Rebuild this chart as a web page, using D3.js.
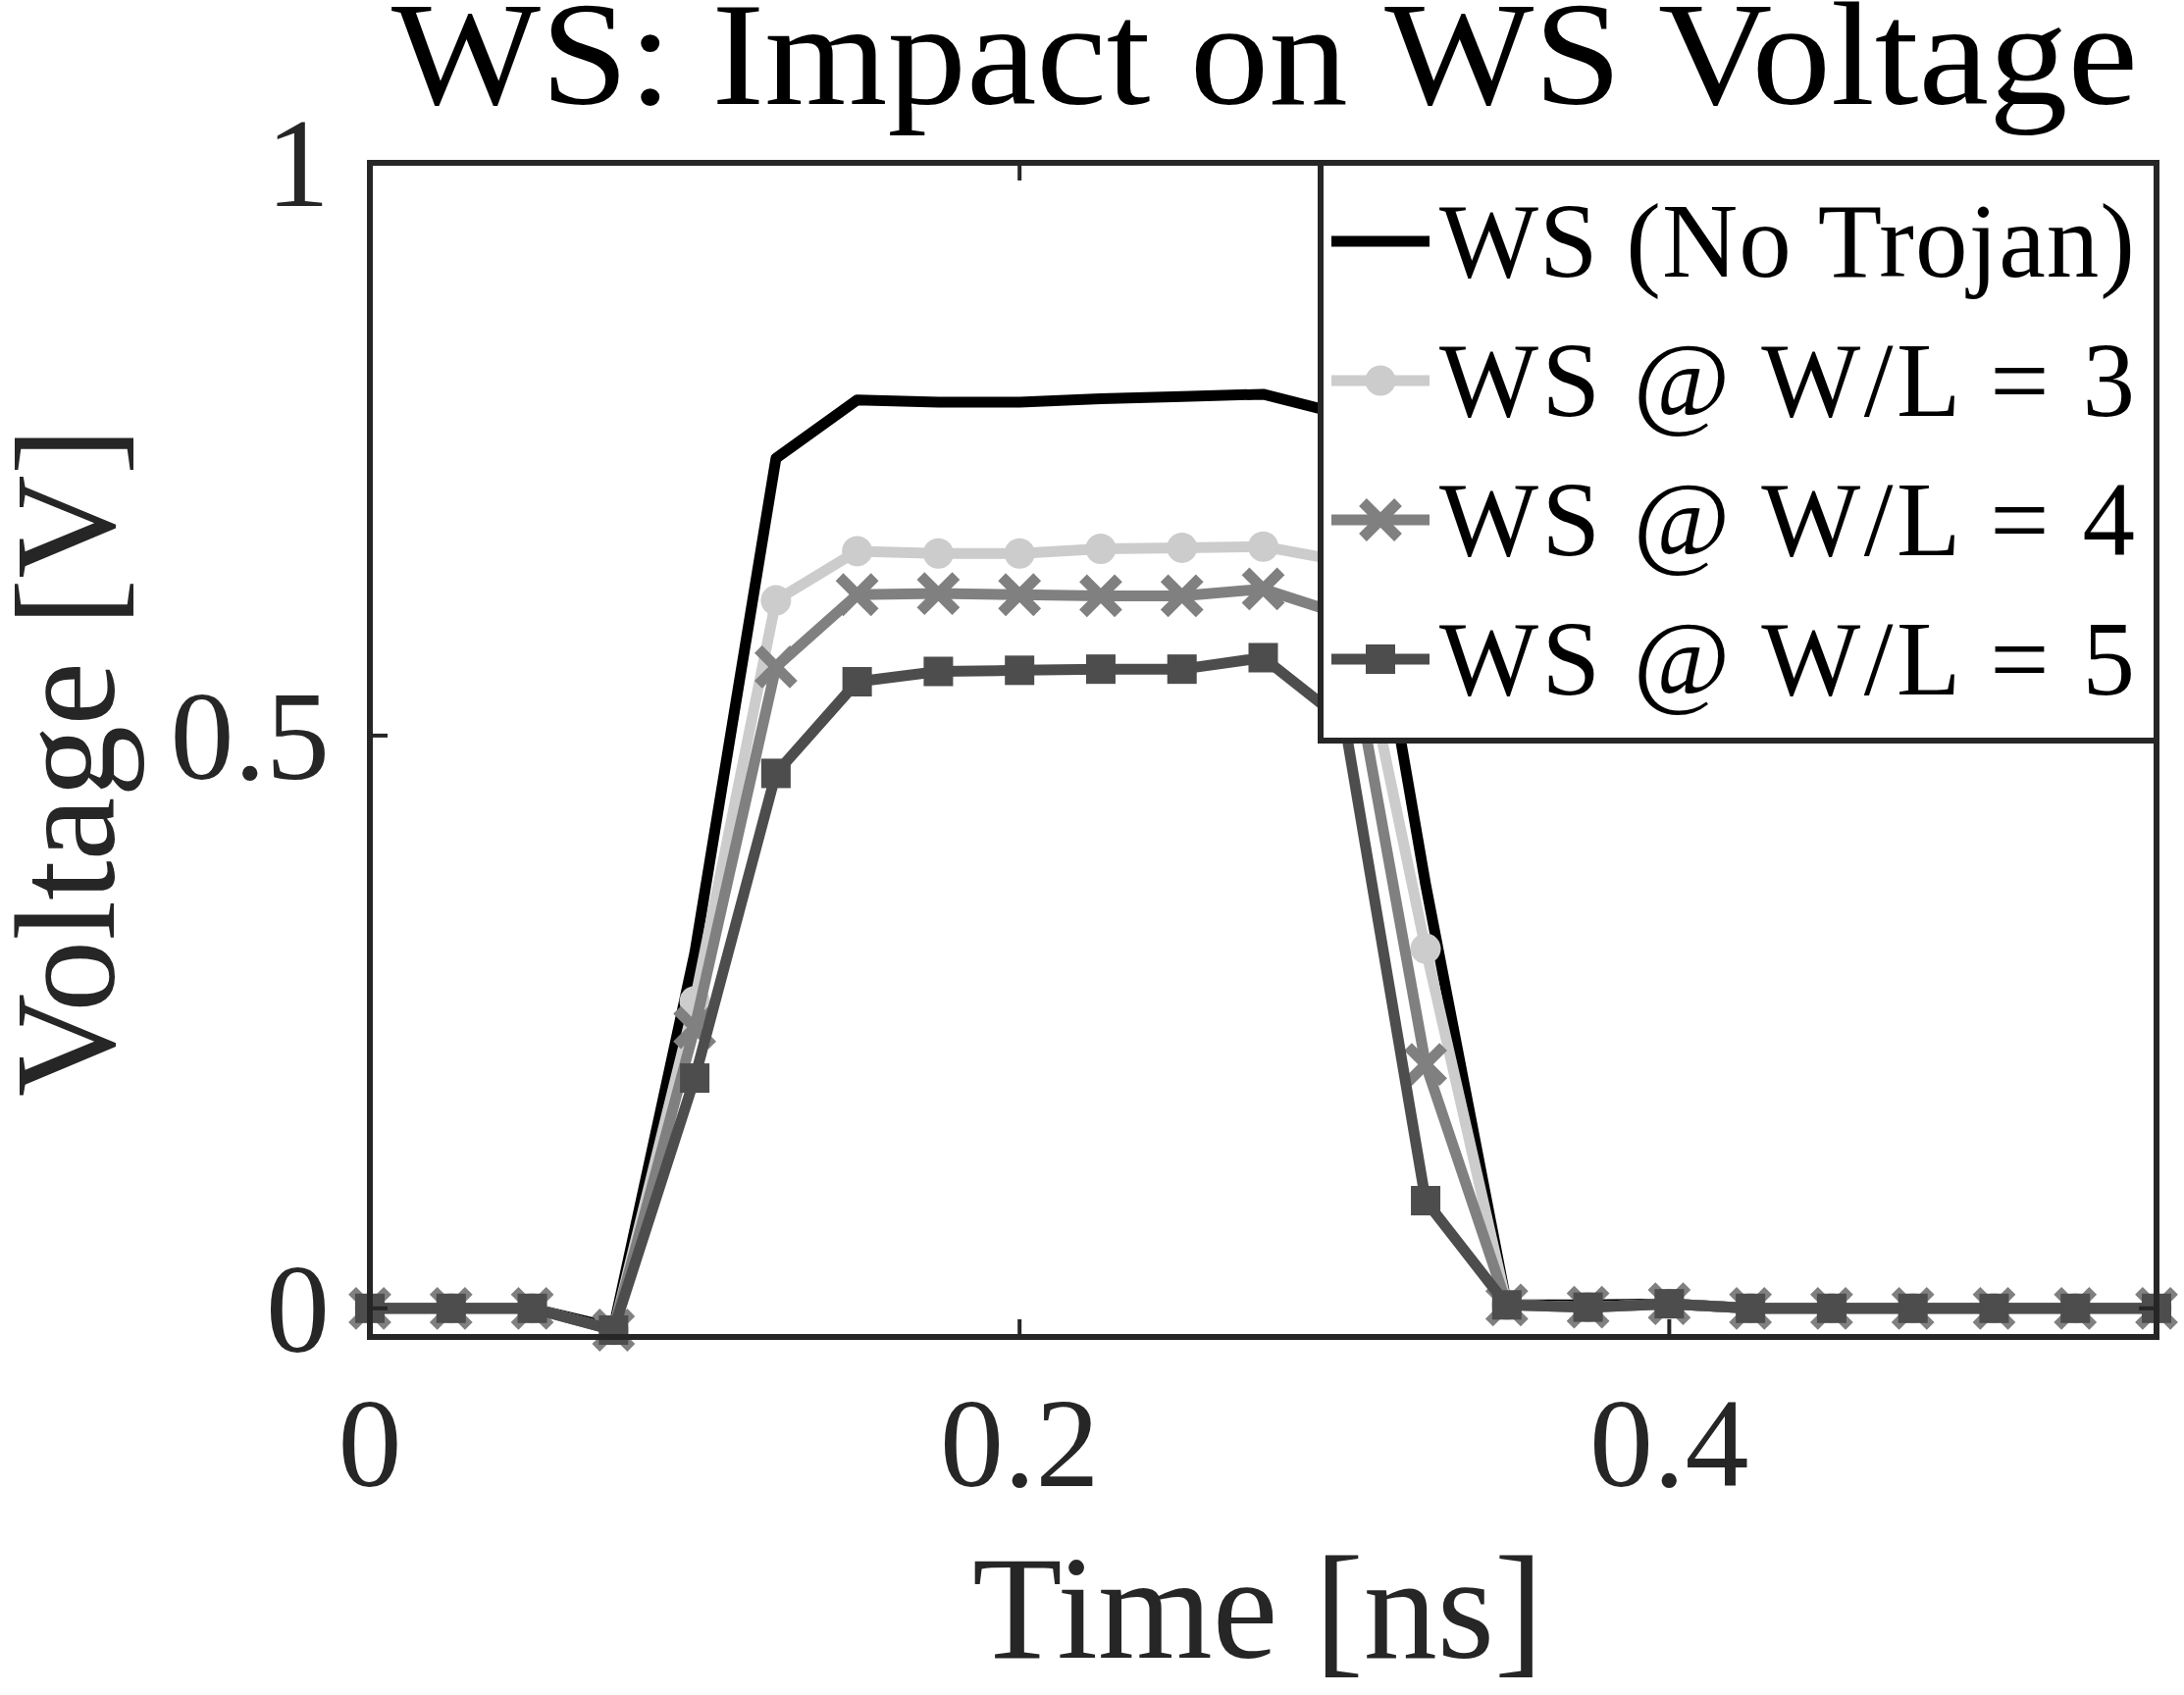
<!DOCTYPE html>
<meta charset="utf-8">
<head>
  <script src="https://d3js.org/d3.v7.min.js"></script>
  <style>
    html, body {
      margin: 0;
      padding: 0;
      background: white;
    }
    text {
      font-family: 'Liberation Serif', 'Times New Roman', serif;
    }
  </style>
</head>
<body>
<div id="my_dataviz"></div>

<script>

// time samples [ns]
var times = [0, 0.025, 0.05, 0.075, 0.1, 0.125, 0.15, 0.175, 0.2, 0.225, 0.25, 0.275,
             0.3, 0.325, 0.35, 0.375, 0.4, 0.425, 0.45, 0.475, 0.5, 0.525, 0.55];

// voltages [V]
var wsNoTrojan = [0, 0, 0, -0.017, 0.31, 0.742, 0.793, 0.791, 0.791, 0.794, 0.796, 0.798,
                  0.78, 0.37, 0.003, 0.003, 0.004, 0, 0, 0, 0, 0, 0];
var wsWL3 = [0, 0, 0, -0.019, 0.268, 0.618, 0.661, 0.659, 0.659, 0.663, 0.664, 0.665,
             0.652, 0.314, 0.003, 0.001, 0.004, 0, 0, 0, 0, 0, 0];
var wsWL4 = [0, 0, 0, -0.019, 0.245, 0.56, 0.623, 0.624, 0.623, 0.622, 0.622, 0.628,
             0.605, 0.213, 0.003, 0.001, 0.004, 0, 0, 0, 0, 0, 0];
var wsWL5 = [0, 0, 0, -0.019, 0.201, 0.467, 0.547, 0.556, 0.557, 0.558, 0.558, 0.568,
             0.512, 0.094, 0.003, 0.001, 0.004, 0, 0, 0, 0, 0, 0];

var seriesNames = ["WS (No Trojan)", "WS @ W/L = 3", "WS @ W/L = 4", "WS @ W/L = 5"];
var xTicks = [0, 0.2, 0.4];
var yTicks = [0, 0.5, 1];

var W = 2226, H = 1728;
var axisColor = "#262626";

var series = [
  {name: seriesNames[0], values: wsNoTrojan, color: "#000000", marker: "none"},
  {name: seriesNames[1], values: wsWL3, color: "#cccccc", marker: "circle"},
  {name: seriesNames[2], values: wsWL4, color: "#808080", marker: "x"},
  {name: seriesNames[3], values: wsWL5, color: "#4d4d4d", marker: "square"}
];

var svg = d3.select("#my_dataviz")
  .append("svg")
    .attr("width", W)
    .attr("height", H)
    .style("display", "block");

svg.append("rect").attr("width", W).attr("height", H).attr("fill", "white");

var x = d3.scaleLinear().domain([0, 0.55]).range([377, 2198]);
var y = d3.scaleLinear().domain([-0.025, 1]).range([1363, 166]);

// lines
var line = d3.line()
  .x(function(d, i) { return x(times[i]); })
  .y(function(d) { return y(d); });

var lineWidth = 11;

function drawMarker(g, type, cx, cy, color) {
  if (type == "circle") {
    g.append("circle").attr("cx", cx).attr("cy", cy).attr("r", 15.5).attr("fill", color);
  } else if (type == "square") {
    g.append("rect").attr("x", cx - 15).attr("y", cy - 15)
      .attr("width", 30).attr("height", 30).attr("fill", color);
  } else if (type == "x") {
    var s = 18;
    g.append("path")
      .attr("d", "M" + (cx - s) + "," + (cy - s) + "L" + (cx + s) + "," + (cy + s) +
                 "M" + (cx - s) + "," + (cy + s) + "L" + (cx + s) + "," + (cy - s))
      .attr("stroke", color)
      .attr("stroke-width", 11)
      .attr("fill", "none");
  }
}

series.forEach(function(s) {
  var g = svg.append("g");
  g.append("path")
    .datum(s.values)
    .attr("d", line)
    .attr("fill", "none")
    .attr("stroke", s.color)
    .attr("stroke-width", lineWidth)
    .attr("stroke-linejoin", "round");
  if (s.marker != "none") {
    s.values.forEach(function(v, i) {
      drawMarker(g, s.marker, x(times[i]), y(v), s.color);
    });
  }
});

// axes box
var x0 = x.range()[0], x1 = x.range()[1], y0 = y.range()[0], y1 = y.range()[1];
svg.append("rect")
  .attr("x", x0).attr("y", y1)
  .attr("width", x1 - x0).attr("height", y0 - y1)
  .attr("fill", "none")
  .attr("stroke", axisColor)
  .attr("stroke-width", 6);

var tickLen = 18;
xTicks.forEach(function(t) {
  svg.append("line").attr("x1", x(t)).attr("x2", x(t)).attr("y1", y0).attr("y2", y0 - tickLen)
    .attr("stroke", axisColor).attr("stroke-width", 4);
  svg.append("line").attr("x1", x(t)).attr("x2", x(t)).attr("y1", y1).attr("y2", y1 + tickLen)
    .attr("stroke", axisColor).attr("stroke-width", 4);
  svg.append("text")
    .attr("x", x(t)).attr("y", 1515)
    .attr("text-anchor", "middle")
    .attr("font-size", 130)
    .attr("fill", axisColor)
    .text(d3.format("")(t));
});

yTicks.forEach(function(t) {
  svg.append("line").attr("x1", x0).attr("x2", x0 + tickLen).attr("y1", y(t)).attr("y2", y(t))
    .attr("stroke", axisColor).attr("stroke-width", 4);
  svg.append("line").attr("x1", x1).attr("x2", x1 - tickLen).attr("y1", y(t)).attr("y2", y(t))
    .attr("stroke", axisColor).attr("stroke-width", 4);
  svg.append("text")
    .attr("x", 336).attr("y", y(t) + 44)
    .attr("text-anchor", "end")
    .attr("font-size", 130)
    .attr("fill", axisColor)
    .text(d3.format("")(t));
});

// title and labels
svg.append("text")
  .attr("x", 1289).attr("y", 106)
  .attr("text-anchor", "middle")
  .attr("font-size", 150)
  .attr("textLength", 1780)
  .attr("lengthAdjust", "spacingAndGlyphs")
  .attr("fill", "#000")
  .text("WS: Impact on WS Voltage");

svg.append("text")
  .attr("x", 1282).attr("y", 1690)
  .attr("text-anchor", "middle")
  .attr("font-size", 150)
  .attr("fill", axisColor)
  .text("Time [ns]");

svg.append("text")
  .attr("transform", "translate(116,777) rotate(-90)")
  .attr("text-anchor", "middle")
  .attr("font-size", 146)
  .attr("fill", axisColor)
  .text("Voltage [V]");

// legend
var legend = svg.append("g");
legend.append("rect")
  .attr("x", 1346).attr("y", y1)
  .attr("width", x1 - 1346).attr("height", 755 - y1)
  .attr("fill", "white")
  .attr("stroke", axisColor)
  .attr("stroke-width", 6);

series.forEach(function(s, i) {
  var cy = 246 + i * 142;
  legend.append("line")
    .attr("x1", 1357).attr("x2", 1457).attr("y1", cy).attr("y2", cy)
    .attr("stroke", s.color).attr("stroke-width", lineWidth);
  drawMarker(legend, s.marker, 1407, cy, s.color);
  legend.append("text")
    .attr("x", 1467).attr("y", cy + 36)
    .attr("font-size", 107)
    .attr("fill", "#000")
    .attr("textLength", 709)
    .attr("lengthAdjust", "spacing")
    .text(s.name);
});

</script>
</body>
